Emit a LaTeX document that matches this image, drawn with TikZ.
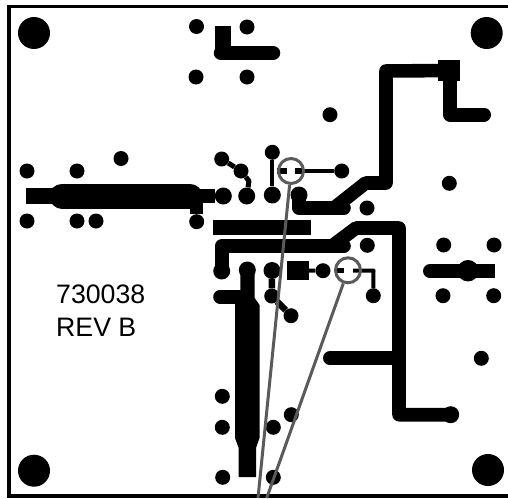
\documentclass[tikz,border=0pt]{standalone}
\usepackage{fontspec}
\setmainfont{Liberation Sans}
\tikzset{
  pad/.style={circle,fill=black,inner sep=0pt,minimum size=15pt},
  bigpad/.style={circle,fill=black,inner sep=0pt,minimum size=17pt},
  hole/.style={circle,fill=black,inner sep=0pt,minimum size=32pt},
  trace/.style={line width=13.6pt,line join=round,line cap=round,black},
  thin trace/.style={line width=4pt,black},
  lens/.style={circle,draw=lensgray,line width=3pt,inner sep=0pt,minimum size=25pt},
  leader/.style={line width=3pt,lensgray},
  label text/.style={font=\fontsize{26.7}{32}\selectfont,anchor=base west,inner sep=0pt}
}
\definecolor{lensgray}{HTML}{5A5A5A}
\begin{document}
\begin{tikzpicture}[x=1pt,y=-1pt]
\useasboundingbox (0,0) rectangle (508,498);
\fill[white] (0,0) rectangle (508,498);
\draw[line width=3.2pt] (508,6.5) -- (9,6.5) -- (9,496) -- (508,496);
% holes
\node[hole] (h1) at (34,33) {};
\node[hole] (h2) at (486.7,33) {};
\node[hole] (h3) at (34,470.7) {};
\node[hole] (h4) at (488,470) {};
% isolated pads
\foreach \n/\x/\y in {a1/196.5/26.5,a2/247/27,a3/196/77,a4/247/77,b1/27/171,b2/77/171,b3/121/158.5,b4/27/221,b5/77/221,b6/96/221,
 c1/330/114.7,c2/449.3/183.3,c3/367/208,c4/367.3/245.3,d1/443.7/245,d2/494/245,d3/443/295.7,d4/493.7/295.7,d5/481.3/358.3,
 e1/222.3/396.3,e2/222.3/427.3,e3/222.7/477.3,e4/291.3/414.7,e5/273.3/427.3,e6/273.3/477.3}
  {\node[pad] (\n) at (\x,\y) {};}
% top L trace
\fill (215,25.7) rectangle (230.7,53);
\coordinate (t1) at (221,53); \coordinate (t2) at (273,53);
\draw[trace,line width=14.5pt] (t1) -- (t2);
% left big trace
\fill (26,187.5) rectangle (60,204);
\coordinate (l1) at (62,196); \coordinate (l2) at (190,196);
\draw[trace,line width=25pt] (l1) -- (l2);
\node[bigpad] (p1) at (223.3,196) {};
\node[pad] (p2) at (196.7,221.7) {};
\draw[trace,line cap=butt] (l2) -- (p1);
\draw[trace,line cap=butt,line width=12.5pt] (p2) -- (196.7,196);
% small diag
\node[pad] (q1) at (221.7,159) {};
\node[pad] (q2) at (241,171) {};
\node[bigpad] (q3) at (246.7,196) {};
\draw[black,line width=5pt,line join=round] (q1) -- (q2) -- (249,181) -- (q3);
% vertical stub with lens 1
\node[pad] (r1) at (272.3,152.3) {};
\node[bigpad] (r2) at (272.3,195) {};
\draw[thin trace] (r1) -- (r2);
\node[pad] (r3) at (341.7,171) {};
\draw[thin trace] (304,171) -- (r3);
\fill (277,168.2) rectangle (287.3,173.8);
\fill (295,168.2) rectangle (304,173.8);
% upper right trace
\node[bigpad] (u1) at (299,195) {};
\coordinate (u2) at (450,70.5);
\coordinate (u3) at (484,114.5);
\coordinate (u4) at (334,208);
\draw[trace] (u1.center) -- (299,208) -- (344,208);
\draw[trace] (u4) -- (365.6,183) -- (386,183) -- (386,71) -- (u2);
\fill (438,60) rectangle (460,81);
\draw[trace,line width=14pt] (u2) -- (450,114.5) -- (u3);
% middle bar
\fill (212.7,220) rectangle (311,235.3);
% long trace
\node[bigpad] (v1) at (221.7,271) {};
\node[bigpad] (v2) at (450.7,414.7) {};
\coordinate (v3) at (330,358.2);
\coordinate (v4) at (332,246);
\draw[trace] (v1.center) -- (221.7,246) -- (344,246);
\draw[trace] (v4) -- (356,228) -- (399,228) -- (399,414.7) -- (v2.center);
\draw[trace,line width=14pt] (v3) -- (399,358.2);
% central body
\node[bigpad] (w1) at (247.3,270) {};
\coordinate (w2) at (220,296.7);
\fill (240.3,270) -- (254.7,270) -- (254.7,298) -- (259.5,305) -- (259.5,438) -- (256,448) -- (256,477) -- (238.7,477) -- (238.7,448) -- (235,438) -- (235,303) -- (240.3,303) -- cycle;
\draw[trace,line cap=round] (w2) -- (245,296.7);
% small pads lower mid
\node[bigpad] (x1) at (272,270.5) {};
\node[pad] (x2) at (271.7,296) {};
\node[pad] (x3) at (291,315.7) {};
\draw[black,line width=6.5pt] (x1) -- (x2) -- (x3);
% square with lens 2
\fill (287.3,261.3) rectangle (309,279.7);
\node[pad] (y1) at (323,270.7) {};
\node[pad] (y2) at (373.3,295.7) {};
\coordinate (s1) at (305,270.5);
\draw[thin trace] (s1) -- (y1);
\fill (336.7,267.7) rectangle (344,273.3);
\draw[thin trace,line join=round] (353,270.5) -- (373.5,270.5) -- (y2);
% right trace
\coordinate (z1) at (430,271); \coordinate (z2) at (494.7,271);
\draw[trace,line width=14pt,line cap=butt] (z1) -- (z2);
\fill (z1) circle (7pt);
\node[circle,fill=black,inner sep=0pt,minimum size=21.5pt] (z3) at (468,270.7) {};
% text
\node[label text] (t730) at (56,303) {730038};
\node[label text] (trev) at (56,336) {REV B};
% lenses
\node[lens] (L1) at (291,171) {};
\node[lens] (L2) at (348,270.3) {};
\coordinate (tip1) at (258,498);
\coordinate (tip2) at (266.7,498);
\draw[leader] (L1) -- (tip1);
\draw[leader] (L2) -- (tip2);
\end{tikzpicture}
\end{document}
